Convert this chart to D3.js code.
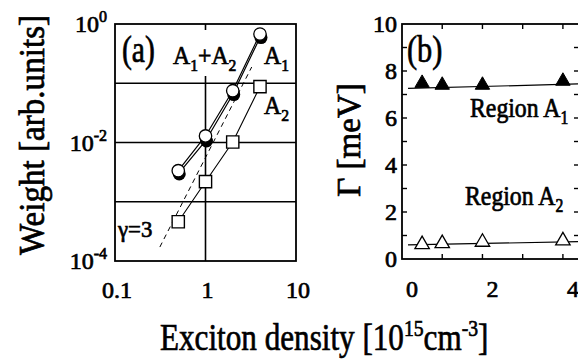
<!DOCTYPE html>
<html>
<head>
<meta charset="utf-8">
<script src="https://cdn.jsdelivr.net/npm/d3@7"></script>
<style>
  body { margin: 0; background: #fff; }
</style>
</head>
<body>
<div id="chart"></div>
<script>
// exciton density (10^15 cm^-3)
var density = [0.5, 1, 2, 4];

// panel (a) weights
var weightA1A2 = [3.34e-3, 0.0129, 0.0748, 0.678];
var weightA1 = [2.95e-3, 0.0106, 0.0645, 0.59];
var weightA2 = [4.6e-4, 2.18e-3, 0.0102, 0.0875];

// gamma = 3 guide line (end points)
var guideX = [0.313, 3.24];
var guideY = [1.72e-4, 0.188];

// panel (b) widths (meV)
var gammaA1 = [7.48, 7.4, 7.4, 7.57];
var gammaA2 = [0.62, 0.66, 0.72, 0.78];
var fitX = [0.15, 4.4];
var fitA1 = [7.26, 7.45];
var fitA2 = [0.6, 0.74];

var yTicksA = [1, 1e-2, 1e-4];
var yTickSupA = ["0", "-2", "-4"];
var xTicksA = [0.1, 1, 10];
var xTickLabelsA = ["0.1", "1", "10"];
var xTicksB = [0, 2, 4];
var yTicksB = [0, 2, 4, 6, 8, 10];

var svg = d3.select("#chart").append("svg")
  .attr("width", 578)
  .attr("height", 360)
  .attr("font-family", "Liberation Serif")
  .attr("fill", "#000");

// scales
var xa = d3.scaleLog().domain([0.1, 10]).range([115, 296]);
var ya = d3.scaleLog().domain([1e-4, 1]).range([261, 24]);
var xb = d3.scaleLinear().domain([0, 4.4]).range([402, 579]);
var yb = d3.scaleLinear().domain([0, 10]).range([259, 24]);

// heavier text, like the scanned figure
function ink(t) {
  return t.attr("font-family", "Liberation Serif")
    .attr("stroke", "#000").attr("stroke-width", 0.7);
}

// label with subscripts: parts are {t: text} or {sub: text}
function subLabel(g, x, y, size, parts, sx) {
  var t = ink(g.append("text")
    .attr("transform", `translate(${x},${y}) scale(${sx || 1},1)`)
    .attr("font-size", size));
  var down = 0;
  parts.forEach(function(p) {
    if (p.sub) {
      t.append("tspan").attr("dy", 7).attr("font-size", size * 0.66).text(p.sub);
      down = 7;
    } else {
      t.append("tspan").attr("dy", -down).text(p.t);
      down = 0;
    }
  });
  return t;
}

// ---------- panel (a) ----------
var pa = svg.append("g");

// grid lines at the decades
pa.selectAll("line.vgrid").data([1]).enter().append("line")
  .attr("x1", d => xa(d)).attr("x2", d => xa(d))
  .attr("y1", ya(1e-4)).attr("y2", ya(1))
  .attr("stroke", "#000").attr("stroke-width", 1.6);
pa.selectAll("line.hgrid").data([1e-1, 1e-2, 1e-3]).enter().append("line")
  .attr("x1", xa(0.1)).attr("x2", xa(10))
  .attr("y1", d => ya(d)).attr("y2", d => ya(d))
  .attr("stroke", "#000").attr("stroke-width", 1.6);

// white box behind the A1+A2 label
pa.append("rect")
  .attr("x", 170).attr("y", 30).attr("width", 68).attr("height", 46)
  .attr("fill", "#fff");

pa.append("rect")
  .attr("x", xa(0.1)).attr("y", ya(1))
  .attr("width", xa(10) - xa(0.1)).attr("height", ya(1e-4) - ya(1))
  .attr("fill", "none").attr("stroke", "#000").attr("stroke-width", 1.8);

// y tick labels 10^n
yTicksA.forEach(function(v, i) {
  var t = ink(pa.append("text")
    .attr("x", 107).attr("y", ya(v) + 8)
    .attr("text-anchor", "end")
    .attr("font-size", 24));
  t.append("tspan").text("10");
  t.append("tspan").attr("dy", -10).attr("font-size", 16).text(yTickSupA[i]);
});

// x tick labels
xTicksA.forEach(function(v, i) {
  ink(pa.append("text")
    .attr("x", xa(v) + 2).attr("y", 298)
    .attr("text-anchor", "middle")
    .attr("font-size", 24)
    .text(xTickLabelsA[i]));
});

// dashed guide line
var guide = d3.range(guideX.length).map(i => [guideX[i], guideY[i]]);
pa.append("path")
  .attr("d", d3.line().x(d => xa(d[0])).y(d => ya(d[1]))(guide))
  .attr("fill", "none").attr("stroke", "#000")
  .attr("stroke-width", 1).attr("stroke-dasharray", "5,4");

function seriesA(values) {
  return density.map((x, i) => [x, values[i]]);
}
var lineA = d3.line().x(d => xa(d[0])).y(d => ya(d[1]));

// A2 squares
pa.append("path")
  .attr("d", lineA(seriesA(weightA2)))
  .attr("fill", "none").attr("stroke", "#000").attr("stroke-width", 1.1);
// A1 and A1+A2 lines
pa.append("path")
  .attr("d", lineA(seriesA(weightA1)))
  .attr("fill", "none").attr("stroke", "#000").attr("stroke-width", 1.2);
pa.append("path")
  .attr("d", lineA(seriesA(weightA1A2)))
  .attr("fill", "none").attr("stroke", "#000").attr("stroke-width", 1.2);

pa.selectAll("path.sq").data(seriesA(weightA2)).enter().append("path")
  .attr("transform", d => `translate(${xa(d[0])},${ya(d[1])})`)
  .attr("d", d3.symbol().type(d3.symbolSquare).size(150))
  .attr("fill", "#fff").attr("stroke", "#000").attr("stroke-width", 1.4);

pa.selectAll("circle.a1").data(seriesA(weightA1)).enter().append("circle")
  .attr("cx", d => xa(d[0]) + 1).attr("cy", d => ya(d[1]))
  .attr("r", 6.5)
  .attr("fill", "#000");
pa.selectAll("circle.a12").data(seriesA(weightA1A2)).enter().append("circle")
  .attr("cx", d => xa(d[0])).attr("cy", d => ya(d[1]))
  .attr("r", 6.2)
  .attr("fill", "#fff").attr("stroke", "#000").attr("stroke-width", 1.3);

// labels in panel (a)
ink(pa.append("text")
  .attr("transform", "translate(122,62) scale(0.78,1)")
  .attr("font-size", 38)
  .text("(a)"));

subLabel(pa, 173, 64, 25, [{t: "A"}, {sub: "1"}, {t: "+A"}, {sub: "2"}], 0.95);
subLabel(pa, 264, 64, 25, [{t: "A"}, {sub: "1"}], 0.95);
subLabel(pa, 264, 114, 25, [{t: "A"}, {sub: "2"}], 0.95);

ink(pa.append("text")
  .attr("transform", "translate(118,237) scale(0.95,1)")
  .attr("font-size", 24)
  .text("\u03b3=3"));

// ---------- panel (b) ----------
var pb = svg.append("g");

pb.append("rect")
  .attr("x", xb(0)).attr("y", yb(10))
  .attr("width", xb(4.4) - xb(0)).attr("height", yb(0) - yb(10))
  .attr("fill", "none").attr("stroke", "#000").attr("stroke-width", 1.8);

// ticks, pointing inwards
var xMinor = [1, 2, 3, 4];
pb.selectAll("line.xtb").data(xMinor).enter().append("line")
  .attr("x1", d => xb(d)).attr("x2", d => xb(d))
  .attr("y1", yb(0)).attr("y2", yb(0) - 5)
  .attr("stroke", "#000").attr("stroke-width", 1.4);
pb.selectAll("line.xtt").data(xMinor).enter().append("line")
  .attr("x1", d => xb(d)).attr("x2", d => xb(d))
  .attr("y1", yb(10)).attr("y2", yb(10) + 5)
  .attr("stroke", "#000").attr("stroke-width", 1.4);
var yMinor = d3.range(1, 10);
pb.selectAll("line.ytl").data(yMinor).enter().append("line")
  .attr("x1", xb(0)).attr("x2", xb(0) + 5)
  .attr("y1", d => yb(d)).attr("y2", d => yb(d))
  .attr("stroke", "#000").attr("stroke-width", 1.4);
pb.selectAll("line.ytr").data(yMinor).enter().append("line")
  .attr("x1", xb(4.4)).attr("x2", xb(4.4) - 5)
  .attr("y1", d => yb(d)).attr("y2", d => yb(d))
  .attr("stroke", "#000").attr("stroke-width", 1.4);

ink(pb.selectAll("text.ylab").data(yTicksB).enter().append("text")
  .attr("x", 397).attr("y", d => yb(d) + 8)
  .attr("text-anchor", "end").attr("font-size", 24)
  .text(d => d));
ink(pb.selectAll("text.xlab").data(xTicksB).enter().append("text")
  .attr("x", d => xb(d) + 10).attr("y", 297)
  .attr("text-anchor", "middle").attr("font-size", 24)
  .text(d => d));

var lineB = d3.line().x(d => xb(d[0])).y(d => yb(d[1]));
pb.append("path")
  .attr("d", lineB(fitX.map((x, i) => [x, fitA1[i]])))
  .attr("fill", "none").attr("stroke", "#000").attr("stroke-width", 1.2);
pb.append("path")
  .attr("d", lineB(fitX.map((x, i) => [x, fitA2[i]])))
  .attr("fill", "none").attr("stroke", "#000").attr("stroke-width", 1.2);

var tri = d3.symbol().type(d3.symbolTriangle).size(90);
pb.selectAll("path.t1").data(density.map((x, i) => [x, gammaA1[i]])).enter().append("path")
  .attr("transform", d => `translate(${xb(d[0])},${yb(d[1])})`)
  .attr("d", tri)
  .attr("fill", "#000").attr("stroke", "#000").attr("stroke-width", 1);
pb.selectAll("path.t2").data(density.map((x, i) => [x, gammaA2[i]])).enter().append("path")
  .attr("transform", d => `translate(${xb(d[0])},${yb(d[1])})`)
  .attr("d", tri)
  .attr("fill", "#fff").attr("stroke", "#000").attr("stroke-width", 1.3);

ink(pb.append("text")
  .attr("transform", "translate(407,62) scale(0.8,1)")
  .attr("font-size", 38)
  .text("(b)"));

subLabel(pb, 470, 117, 27, [{t: "Region A"}, {sub: "1"}], 0.88);
subLabel(pb, 465, 205, 27, [{t: "Region A"}, {sub: "2"}], 0.88);

// ---------- axis titles ----------
ink(svg.append("text")
  .attr("transform", "translate(44,135) rotate(-90) scale(0.92,1)")
  .attr("text-anchor", "middle")
  .attr("font-size", 36)
  .text("Weight [arb.units]"));

ink(svg.append("text")
  .attr("transform", "translate(360,140) rotate(-90)")
  .attr("text-anchor", "middle")
  .attr("font-size", 33)
  .text("\u0393 [meV]"));

var xt = ink(svg.append("text")
  .attr("transform", "translate(160,350) scale(0.82,1)")
  .attr("font-size", 38));
xt.append("tspan").text("Exciton density [10");
xt.append("tspan").attr("dy", -14).attr("font-size", 24).text("15");
xt.append("tspan").attr("dy", 14).text("cm");
xt.append("tspan").attr("dy", -14).attr("font-size", 24).text("-3");
xt.append("tspan").attr("dy", 14).text("]");
</script>
</body>
</html>
